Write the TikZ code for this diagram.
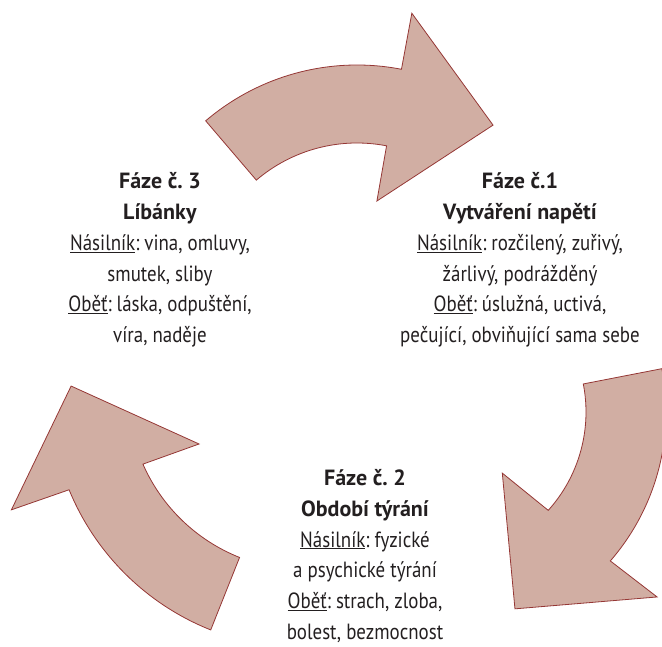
\documentclass[tikz,border=0pt]{standalone}
\usepackage{fontspec}
\setmainfont{PT Sans}[UprightFeatures={FakeStretch=0.86}, BoldFeatures={FakeStretch=1.0}]
\definecolor{arrowfill}{HTML}{D1AEA3}
\definecolor{arrowline}{HTML}{953735}
\definecolor{txt}{HTML}{231F20}
\tikzset{
  cyclearrow/.style={fill=arrowfill, draw=arrowline, line width=0.8pt, line join=miter},
  phase/.style={align=center, text=txt, inner sep=0pt, font=\fontsize{22}{30.8}\selectfont}
}
\frenchspacing
\begin{document}
\begin{tikzpicture}[x=1pt,y=1pt]
\useasboundingbox (0,0) rectangle (662,646);
% top arrow (Phase 3 -> Phase 1)
\begin{scope}[shift={(357pt,348pt)}]
\draw[cyclearrow] (130.5:233pt) arc[start angle=130.5, end angle=79, radius=233pt]
  -- (79.1:290pt) -- (51.8:220pt) -- (78.4:99pt) -- (79:155pt)
  arc[start angle=79, end angle=130.5, radius=155pt] -- cycle;
\end{scope}
% right arrow (Phase 1 -> Phase 2)
\begin{scope}[shift={(439pt,234pt)}]
\draw[cyclearrow] (11:227pt) arc[start angle=11, end angle=-41, radius=227pt]
  -- (-40.3:286pt) -- (-68.9:211pt) -- (-44:88pt) -- (-42:147pt)
  arc[start angle=-42, end angle=11, radius=147pt] -- cycle;
\end{scope}
% left arrow (Phase 2 -> Phase 3)
\begin{scope}[shift={(305pt,253pt)}]
\draw[cyclearrow] (248.3:255pt) arc[start angle=248.3, end angle=202.3, radius=255pt]
  -- (201.7:316pt) -- (178.3:234pt) -- (205.7:117.6pt) -- (203.7:177pt)
  arc[start angle=203.7, end angle=248.3, radius=177pt] -- cycle;
\end{scope}
\node[phase] (f1) at (520,386) {\textbf{Fáze č.1}\\\textbf{Vytváření napětí}\\\underline{Násilník}: rozčilený, zuřivý,\\žárlivý, podrážděný\\\underline{Oběť}: úslužná, uctivá,\\pečující, obviňující sama sebe};
\node[phase] (f3) at (160,386) {\textbf{Fáze č. 3}\\\textbf{Líbánky}\\\underline{Násilník}: vina, omluvy,\\smutek, sliby\\\underline{Oběť}: láska, odpuštění,\\víra, naděje};
\node[phase] (f2) at (365,90) {\textbf{Fáze č. 2}\\\textbf{Období týrání}\\\underline{Násilník}: fyzické\\a psychické týrání\\\underline{Oběť}: strach, zloba,\\bolest, bezmocnost};
\end{tikzpicture}
\end{document}
